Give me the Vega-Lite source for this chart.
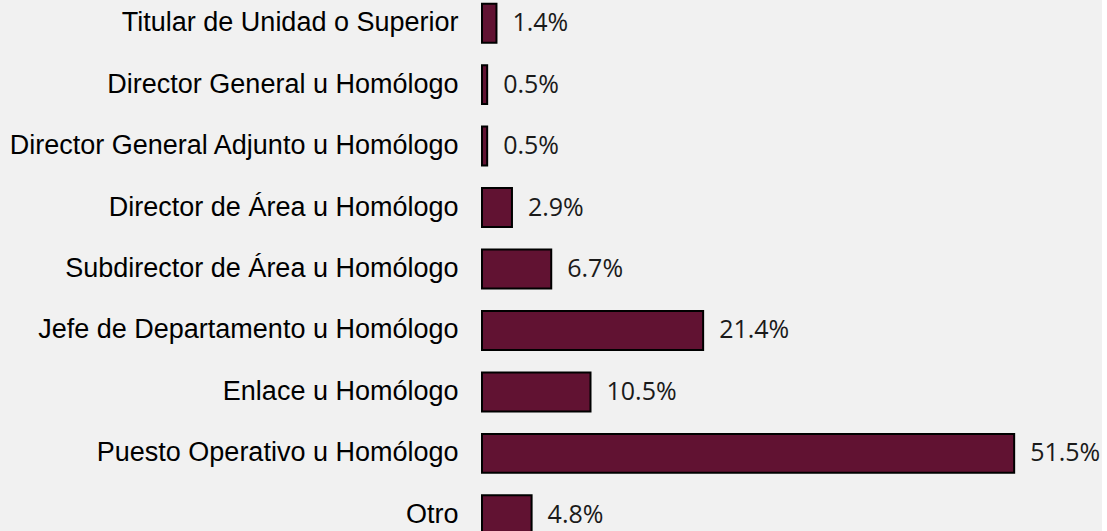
{
  "$schema": "https://vega.github.io/schema/vega-lite/v6.json",
  "width": 620,
  "height": 538,
  "autosize": {"type": "none"},
  "padding": {"left": 482, "top": 0, "right": 0, "bottom": 0},
  "background": "#f1f1f1",
  "config": {"view": {"stroke": null}},
  "data": {
    "values": [
      {"puesto": "Titular de Unidad o Superior", "pct": 0.014},
      {"puesto": "Director General u Homólogo", "pct": 0.005},
      {"puesto": "Director General Adjunto u Homólogo", "pct": 0.005},
      {"puesto": "Director de Área u Homólogo", "pct": 0.029},
      {"puesto": "Subdirector de Área u Homólogo", "pct": 0.067},
      {"puesto": "Jefe de Departamento u Homólogo", "pct": 0.214},
      {"puesto": "Enlace u Homólogo", "pct": 0.105},
      {"puesto": "Puesto Operativo u Homólogo", "pct": 0.515},
      {"puesto": "Otro", "pct": 0.048}
    ]
  },
  "encoding": {
    "y": {
      "field": "puesto",
      "type": "nominal",
      "sort": null,
      "scale": {"paddingInner": 0.366, "paddingOuter": 0.06},
      "axis": {
        "title": null,
        "domain": false,
        "ticks": false,
        "labelFont": "Liberation Sans",
        "labelFontSize": 27,
        "labelColor": "#000000",
        "labelPadding": 24,
        "labelLimit": 0
      }
    },
    "x": {
      "field": "pct",
      "type": "quantitative",
      "scale": {"domain": [0, 0.6]},
      "axis": null
    }
  },
  "layer": [
    {
      "mark": {"type": "bar", "color": "#611232", "stroke": "#000000", "strokeWidth": 2}
    },
    {
      "mark": {"type": "text", "align": "left", "baseline": "middle", "dx": 16, "font": "Open Sans", "fontSize": 25, "color": "#1a1a1a"},
      "encoding": {"text": {"field": "pct", "type": "quantitative", "format": ".1%"}}
    }
  ]
}
